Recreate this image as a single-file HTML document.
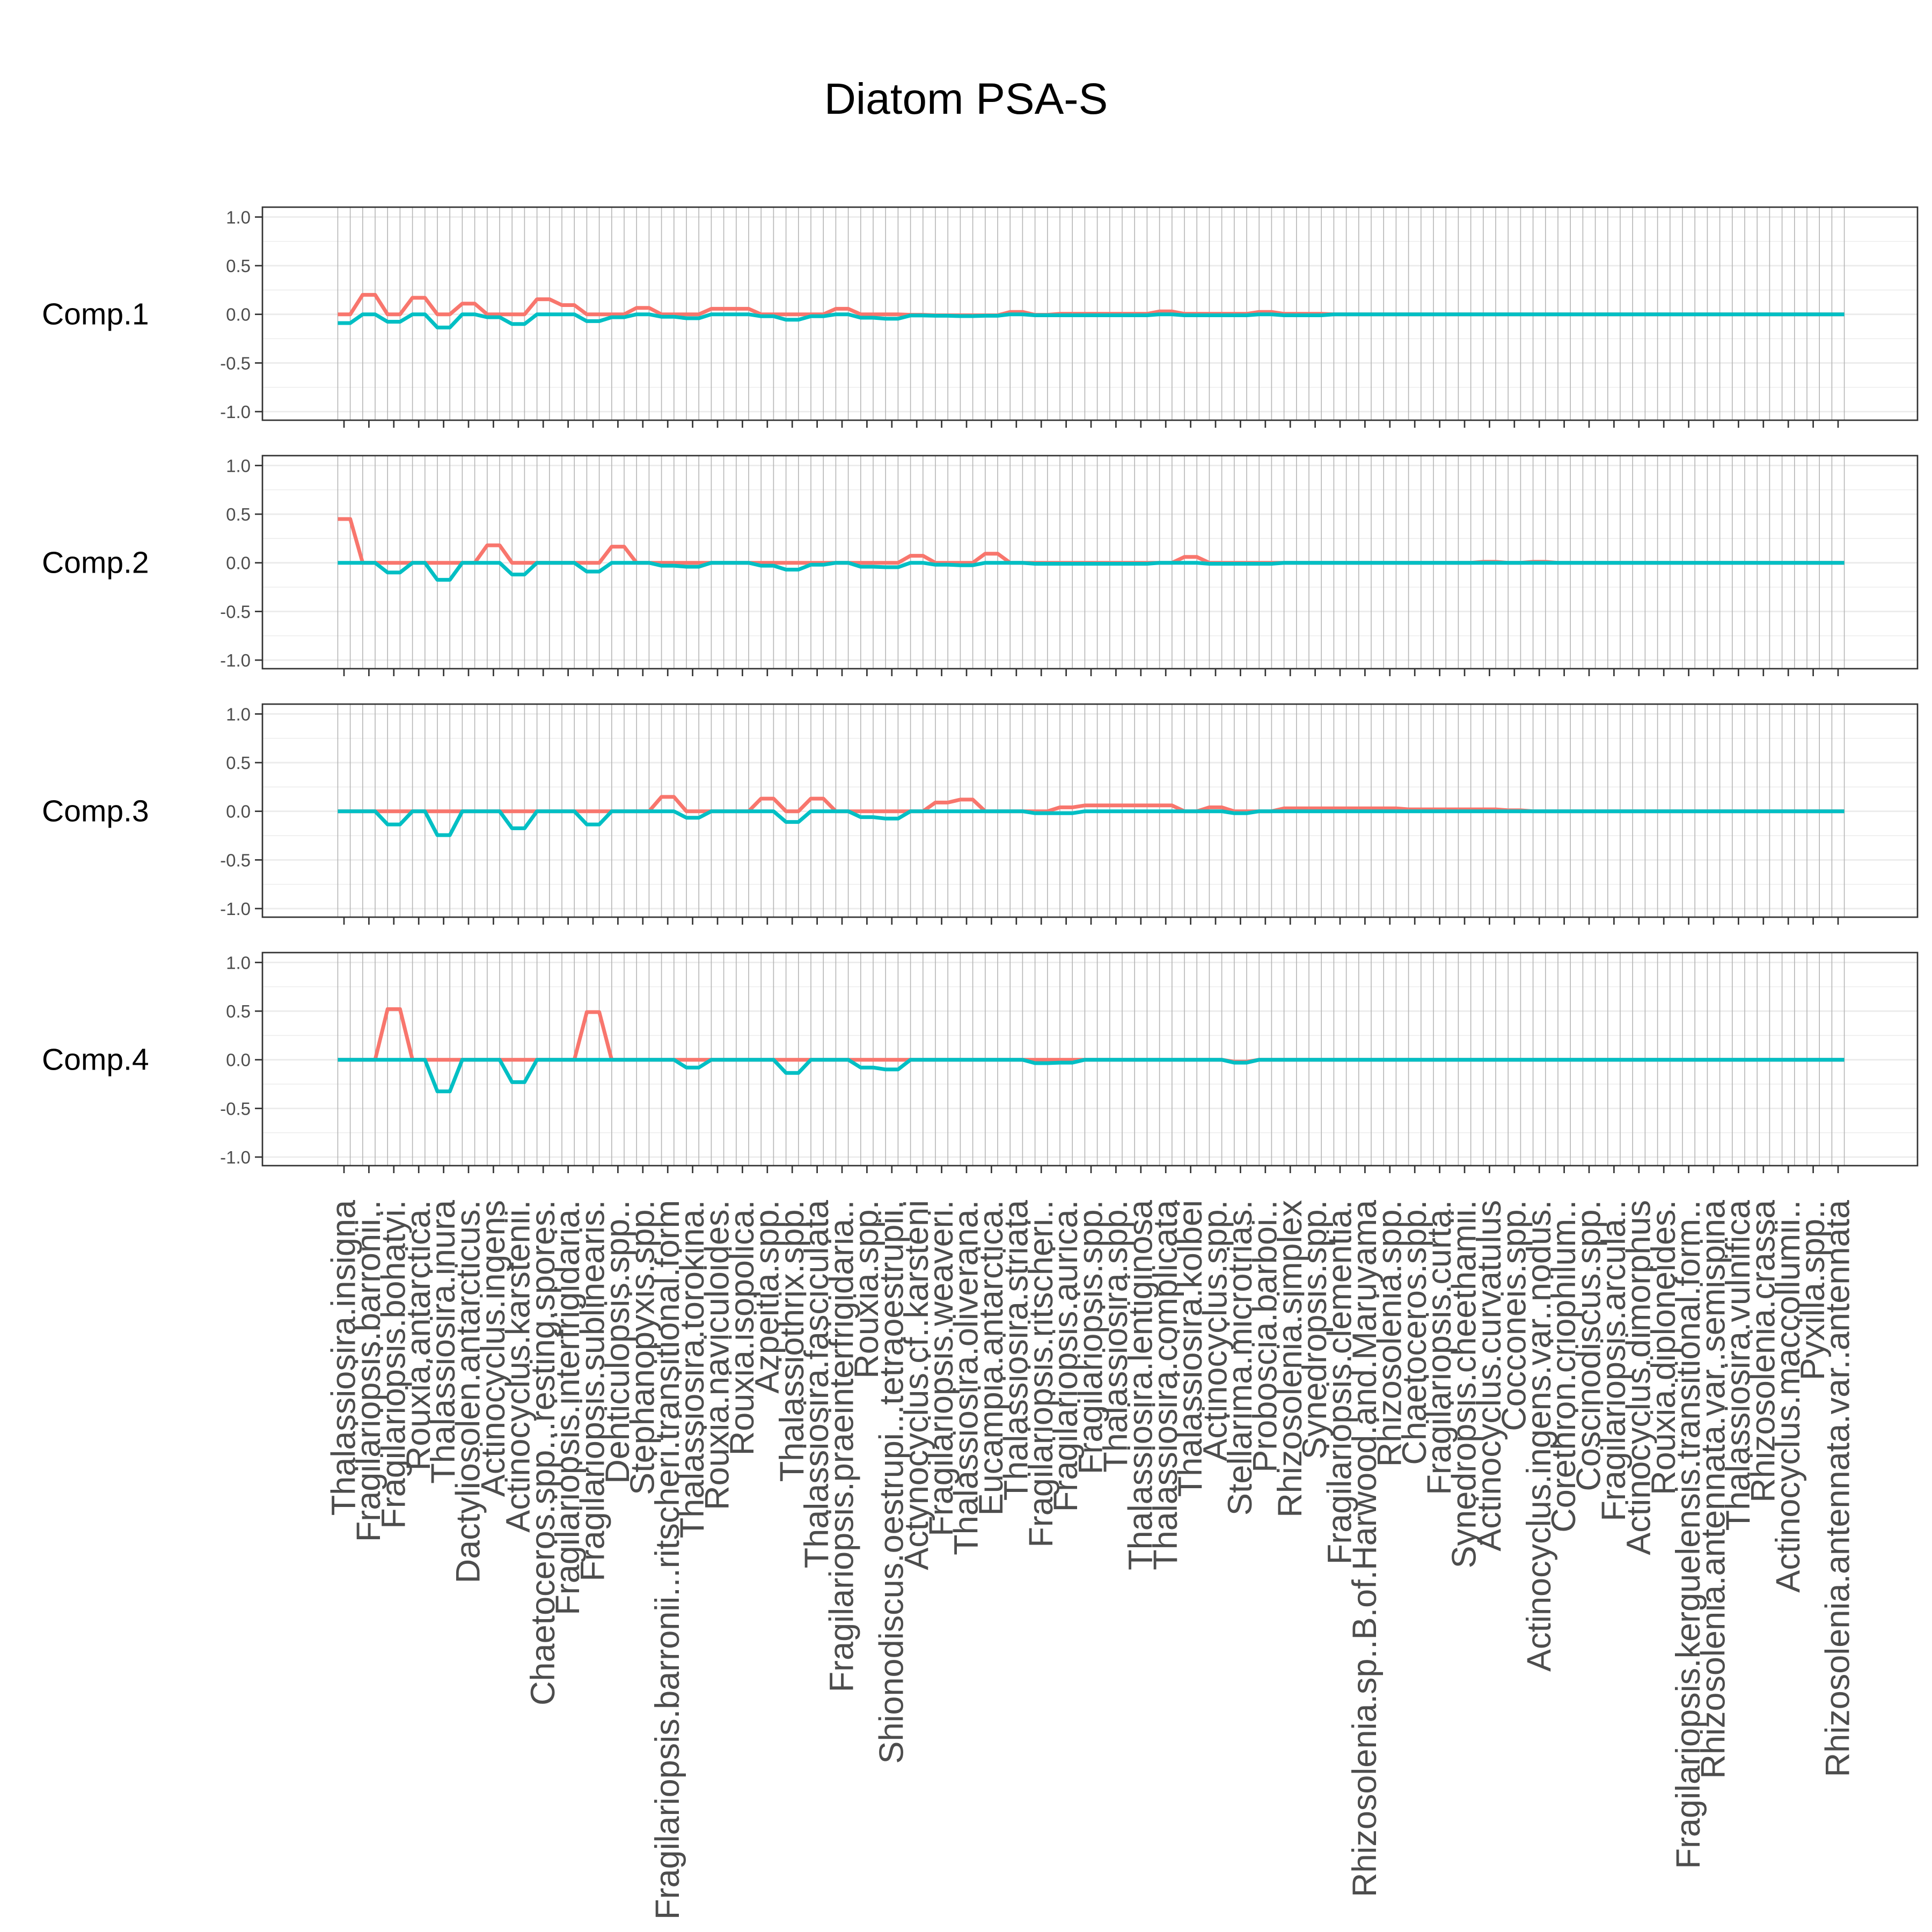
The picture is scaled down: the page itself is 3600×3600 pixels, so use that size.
<!DOCTYPE html>
<html>
<head>
<meta charset="utf-8">
<style>
html,body{margin:0;padding:0;background:#fff;}
svg{display:block;}
text{font-family:"Liberation Sans",Arial,sans-serif;}
</style>
</head>
<body>
<svg id="chart" width="3600" height="3600" viewBox="0 0 3600 3600" xmlns="http://www.w3.org/2000/svg">
<text x="1800" y="212" text-anchor="middle" font-size="82" fill="#000">Diatom PSA-S</text>
<g id="panels"></g>
<g id="xlabels"></g>
</svg>
<script>
const categories = ["Thalassiosira.insigna","Fragilariopsis.barronii..","Fragilariopsis.bohatyi.","Rouxia.antarctica.","Thalassiosira.inura","Dactyliosolen.antarcticus.","Actinocyclus.ingens","Actinocyclus.karstenii.","Chaetoceros.spp...resting.spores.","Fragilariopsis.interfrigidaria.","Fragilariopsis.sublinearis.","Denticulopsis.spp..","Stephanopyxis.spp.","Fragilariopsis.barronii...ritscheri.transitional.form","Thalassiosira.torokina.","Rouxia.naviculoides.","Rouxia.isopolica.","Azpeitia.spp.","Thalassiothrix.spp.","Thalassiosira.fasciculata","Fragilariopsis.praeinterfrigidaria..","Rouxia.spp.","Shionodiscus.oestrupi...tetraoestrupii.","Actynocyclus.cf..karsteni","Fragilariopsis.weaveri.","Thalassiosira.oliverana.","Eucampia.antarctica.","Thalassiosira.striata","Fragilariopsis.ritscheri..","Fragilariopsis.aurica.","Fragilariopsis.spp.","Thalassiosira.spp.","Thalassiosira.lentiginosa","Thalassiosira.complicata","Thalassiosira.kolbei","Actinocyclus.spp.","Stellarima.microtrias.","Proboscia.barboi..","Rhizosolenia.simplex","Synedropsis.spp.","Fragilariopsis.clementia.","Rhizosolenia.sp..B.of.Harwood.and.Maruyama","Rhizosolenia.spp.","Chaetoceros.spp.","Fragilariopsis.curta.","Synedropsis.cheethamii.","Actinocyclus.curvatulus","Cocconeis.spp.","Actinocyclus.ingens.var..nodus.","Corethron.criophilum..","Coscinodiscus.spp.","Fragilariopsis.arcula..","Actinocyclus.dimorphus","Rouxia.diploneides.","Fragilariopsis.kerguelensis.transitional.form..","Rhizosolenia.antennata.var..semispina","Thalassiosira.vulnifica","Rhizosolenia.crassa","Actinocyclus.maccollumii..","Pyxilla.spp..","Rhizosolenia.antennata.var..antennata"];
const panelNames = ["Comp.1","Comp.2","Comp.3","Comp.4"];
const yTicks = [-1.0,-0.5,0.0,0.5,1.0];
const yTickLabels = ["-1.0","-0.5","0.0","0.5","1.0"];
// series values (red = first series, cyan = second series), 61 per panel
const comp1Red  = [0,0.2,0,0.17,0,0.11,0,0,0.155,0.095,0,0,0.066,0,0,0.057,0.057,0,0,0,0.057,0,0,-0.005,-0.01,-0.01,-0.01,0.025,-0.005,0.005,0.005,0.005,0.005,0.03,0.005,0.005,0.005,0.025,0.005,0.005,0,0,0,0,0,0,0,0,0,0,0,0,0,0,0,0,0,0,0,0,0];
const comp1Cyan = [-0.09,0,-0.076,0,-0.135,0,-0.03,-0.1,0,0,-0.07,-0.03,0,-0.025,-0.04,0,0,-0.02,-0.055,-0.02,0,-0.035,-0.045,-0.012,-0.015,-0.018,-0.015,0,-0.01,-0.01,-0.01,-0.01,-0.01,0,-0.01,-0.01,-0.01,0,-0.01,-0.01,0,0,0,0,0,0,0,0,0,0,0,0,0,0,0,0,0,0,0,0,0];
const comp2Red  = [0.45,0,0,0,0,0,0.18,0,0,0,0,0.166,0,0,0,0,0,0,0,0,0,0,0,0.072,0,0,0.094,0,0,0,0,0,0,0,0.06,0,0,0,0,0,0,0,0,0,0,0,0.01,0,0.01,0,0,0,0,0,0,0,0,0,0,0,0];
const comp2Cyan = [0,0,-0.1,0,-0.175,0,0,-0.12,0,0,-0.09,0,0,-0.03,-0.04,0,0,-0.03,-0.07,-0.02,0,-0.04,-0.045,0,-0.02,-0.025,0,0,-0.01,-0.01,-0.01,-0.01,-0.01,0,0,-0.01,-0.01,-0.01,0,0,0,0,0,0,0,0,0,0,0,0,0,0,0,0,0,0,0,0,0,0,0];
const comp3Red  = [0,0,0,0,0,0,0,0,0,0,0,0,0,0.148,0,0,0,0.13,0,0.13,0,0,0,0,0.09,0.12,0,0,0,0.04,0.06,0.06,0.06,0.06,0,0.04,0,0,0.03,0.03,0.03,0.03,0.03,0.02,0.02,0.02,0.02,0.01,0,0,0,0,0,0,0,0,0,0,0,0,0];
const comp3Cyan = [0,0,-0.135,0,-0.245,0,0,-0.175,0,0,-0.135,0,0,0,-0.066,0,0,0,-0.11,0,0,-0.06,-0.075,0,0,0,0,0,-0.02,-0.02,0,0,0,0,0,0,-0.02,0,0,0,0,0,0,0,0,0,0,0,0,0,0,0,0,0,0,0,0,0,0,0,0];
const comp4Red  = [0,0,0.52,0,0,0,0,0,0,0,0.49,0,0,0,0,0,0,0,0,0,0,0,0,0,0,0,0,0,0,0,0,0,0,0,0,0,-0.02,0,0,0,0,0,0,0,0,0,0,0,0,0,0,0,0,0,0,0,0,0,0,0,0];
const comp4Cyan = [0,0,0,0,-0.325,0,0,-0.23,0,0,0,0,0,0,-0.08,0,0,0,-0.135,0,0,-0.08,-0.1,0,0,0,0,0,-0.035,-0.03,0,0,0,0,0,0,-0.03,0,0,0,0,0,0,0,0,0,0,0,0,0,0,0,0,0,0,0,0,0,0,0,0];
const redSeries = [comp1Red, comp2Red, comp3Red, comp4Red];
const cyanSeries = [comp1Cyan, comp2Cyan, comp3Cyan, comp4Cyan];

const NS = "http://www.w3.org/2000/svg";
const PL = 489, PR = 3573, PH = 397, PITCH = 463, PTOP0 = 386;
const X0 = 641, STEP = 46.4;
function xPos(i){ return X0 + STEP * i; }
function yPos(p, v){ return PTOP0 + p * PITCH + 18.4 + (1 - v) / 2 * 362.6; }
function mk(tag, attrs){ const e = document.createElementNS(NS, tag); for (const k in attrs) e.setAttribute(k, attrs[k]); return e; }

const panels = document.getElementById("panels");
for (let p = 0; p < 4; p++) {
  const top = PTOP0 + p * PITCH;
  const g = mk("g", {});
  
  
  panels.appendChild(g);
  [-0.75,-0.25,0.25,0.75].forEach(v => {
    const l = mk("line", {x1: PL, x2: PR, y1: yPos(p, v), y2: yPos(p, v), stroke: "#ebebeb", "stroke-width": 1.4});
    
    
    g.appendChild(l);
  });
  yTicks.forEach(v => {
    const l = mk("line", {x1: PL, x2: PR, y1: yPos(p, v), y2: yPos(p, v), stroke: "#ebebeb", "stroke-width": 2.8});
    
    
    g.appendChild(l);
  });
  for (let i = 0; i < categories.length; i++) {
    [-0.25, 0.25].forEach(o => {
      const x = xPos(i + o);
      const l = mk("line", {x1: x, x2: x, y1: top, y2: top + PH, stroke: "#b5b5b5", "stroke-width": 1.6});
      
      
      g.appendChild(l);
    });
  }
  [[redSeries[p], "#F8766D", "red"], [cyanSeries[p], "#00BFC4", "cyan"]].forEach(([vals, col, nm]) => {
    let d = "";
    vals.forEach((v, i) => {
      const y = yPos(p, v);
      d += (i === 0 ? "M" : "L") + xPos(i - 0.25).toFixed(1) + "," + y.toFixed(1) + "L" + xPos(i + 0.25).toFixed(1) + "," + y.toFixed(1);
    });
    const path = mk("path", {d: d, fill: "none", stroke: col, "stroke-width": 7, "stroke-linejoin": "round"});
    
    
    g.appendChild(path);
  });
  const b = mk("rect", {x: PL, y: top, width: PR - PL, height: PH, fill: "none", stroke: "#333333", "stroke-width": 2.7});
  
  
  g.appendChild(b);
  yTicks.forEach((v, k) => {
    const y = yPos(p, v);
    const t = mk("line", {x1: PL - 14, x2: PL, y1: y, y2: y, stroke: "#333333", "stroke-width": 2.7});
    
    
    g.appendChild(t);
    const tx = mk("text", {x: PL - 22, y: y + 12, "text-anchor": "end", "font-size": 33, fill: "#4d4d4d"});
    tx.textContent = yTickLabels[k];
    
    
    g.appendChild(tx);
  });
  for (let i = 0; i < categories.length; i++) {
    const t = mk("line", {x1: xPos(i), x2: xPos(i), y1: top + PH, y2: top + PH + 14, stroke: "#333333", "stroke-width": 2.7});
    
    
    g.appendChild(t);
  }
  const s = mk("text", {x: 78, y: top + PH / 2 + 20, "font-size": 57, fill: "#000"});
  s.textContent = panelNames[p];
  
  
  g.appendChild(s);
}
const xl = document.getElementById("xlabels");
categories.forEach((c, i) => {
  const x = xPos(i) + 4, y = 2236;
  const t = mk("text", {x: 0, y: 0, transform: "translate(" + x.toFixed(1) + "," + y + ") rotate(-90)", "text-anchor": "end", "dominant-baseline": "middle", "font-size": 63, fill: "#4d4d4d"});
  t.textContent = c;
  
  
  xl.appendChild(t);
});
</script>
</body>
</html>
